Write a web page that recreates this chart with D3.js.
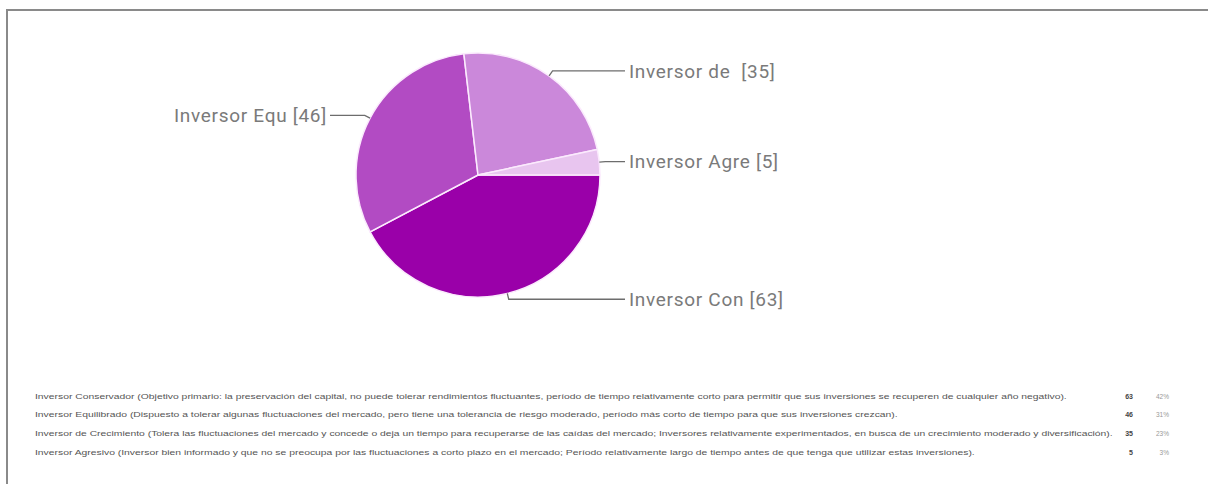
<!DOCTYPE html>
<html>
<head>
<meta charset="utf-8">
<script src="https://cdn.jsdelivr.net/npm/d3@7"></script>
<style>
  body { margin: 0; background: #fff; }
  svg { display: block; }
</style>
</head>
<body>
<svg id="chart"></svg>
<script>
// datos
const cortos = ["Inversor Con", "Inversor Equ", "Inversor de ", "Inversor Agre"];
const valores = [63, 46, 35, 5];
const porcentajes = ["42%", "31%", "23%", "3%"];
const descripciones = [
  "Inversor Conservador (Objetivo primario: la preservación del capital, no puede tolerar rendimientos fluctuantes, período de tiempo relativamente corto para permitir que sus inversiones se recuperen de cualquier año negativo).",
  "Inversor Equilibrado (Dispuesto a tolerar algunas fluctuaciones del mercado, pero tiene una tolerancia de riesgo moderado, período más corto de tiempo para que sus inversiones crezcan).",
  "Inversor de Crecimiento (Tolera las fluctuaciones del mercado y concede o deja un tiempo para recuperarse de las caídas del mercado; Inversores relativamente experimentados, en busca de un crecimiento moderado y diversificación).",
  "Inversor Agresivo (Inversor bien informado y que no se preocupa por las fluctuaciones a corto plazo en el mercado; Período relativamente largo de tiempo antes de que tenga que utilizar estas inversiones)."
];
const colores = ["#9a00a9", "#b24bc3", "#cb88da", "#e8c5ef"];

const W = 1208, H = 484;
const cx = 478, cy = 175, r = 122;

let svg = d3.select("#chart")
  .attr("width", W)
  .attr("height", H);

// marco
svg.append("path")
  .attr("d", `M7,${H} L7,10 L${W},10`)
  .attr("fill", "none")
  .attr("stroke", "#8a8a8a")
  .attr("stroke-width", 2);

let pie = d3.pie()
  .sort(null)
  .startAngle(Math.PI / 2)
  .endAngle(Math.PI / 2 + 2 * Math.PI);

let arc = d3.arc().innerRadius(0).outerRadius(r);

let arcs = pie(valores);

let g = svg.append("g").attr("transform", `translate(${cx},${cy})`);

g.selectAll("path")
  .data(arcs)
  .enter()
  .append("path")
  .attr("d", arc)
  .attr("fill", (d, i) => colores[i])
  .attr("stroke", "#fbeafd")
  .attr("stroke-width", 1.5);

// lineas guia y etiquetas
arcs.forEach((d, i) => {
  let a = (d.startAngle + d.endAngle) / 2;
  let sx = Math.sin(a), sy = -Math.cos(a);
  let p0 = [sx * r, sy * r];
  let p1 = [sx * (r + 6), sy * (r + 6)];
  let derecha = sx > 0;
  let xEnd = derecha ? 147 : -148;
  g.append("polyline")
    .attr("points", [p0, p1, [xEnd, p1[1]]].map(p => p.join(",")).join(" "))
    .attr("fill", "none")
    .attr("stroke", "#6d6d6d")
    .attr("stroke-width", 1.3);
  g.append("text")
    .attr("x", derecha ? xEnd + 4 : xEnd - 3)
    .attr("y", p1[1])
    .attr("dy", "0.35em")
    .attr("text-anchor", derecha ? "start" : "end")
    .attr("font-family", "Roboto, sans-serif")
    .attr("font-size", 19)
    .attr("letter-spacing", 0.7)
    .attr("fill", "#7a7a7a")
    .style("white-space", "pre")
    .text(cortos[i] + " [" + valores[i] + "]");
});

// tabla inferior
let filasY = [397, 415, 434, 453];
let tabla = svg.append("g");

tabla.selectAll("text.desc")
  .data(descripciones)
  .enter()
  .append("text")
  .attr("class", "desc")
  .attr("x", 35)
  .attr("y", (d, i) => filasY[i])
  .attr("dy", "0.35em")
  .attr("font-family", "Liberation Sans, Arial, sans-serif")
  .attr("font-size", 6.8)
  .attr("fill", "#555")
  .text(d => d);

// ajustar ancho horizontal de la primera fila hasta x=1068
let w0 = tabla.select("text.desc").node().getComputedTextLength();
let k = (1068 - 35) / w0;
tabla.selectAll("text.desc")
  .attr("transform", `translate(35,0) scale(${k},1) translate(-35,0)`);

tabla.selectAll("text.num")
  .data(valores)
  .enter()
  .append("text")
  .attr("class", "num")
  .attr("x", 1133)
  .attr("y", (d, i) => filasY[i])
  .attr("dy", "0.35em")
  .attr("text-anchor", "end")
  .attr("font-family", "Liberation Sans, Arial, sans-serif")
  .attr("font-size", 7)
  .attr("font-weight", "bold")
  .attr("fill", "#444")
  .text(d => d);

tabla.selectAll("text.pct")
  .data(porcentajes)
  .enter()
  .append("text")
  .attr("class", "pct")
  .attr("x", 1169)
  .attr("y", (d, i) => filasY[i])
  .attr("dy", "0.35em")
  .attr("text-anchor", "end")
  .attr("font-family", "Liberation Sans, Arial, sans-serif")
  .attr("font-size", 6.5)
  .attr("fill", "#999")
  .text(d => d);
</script>
</body>
</html>
